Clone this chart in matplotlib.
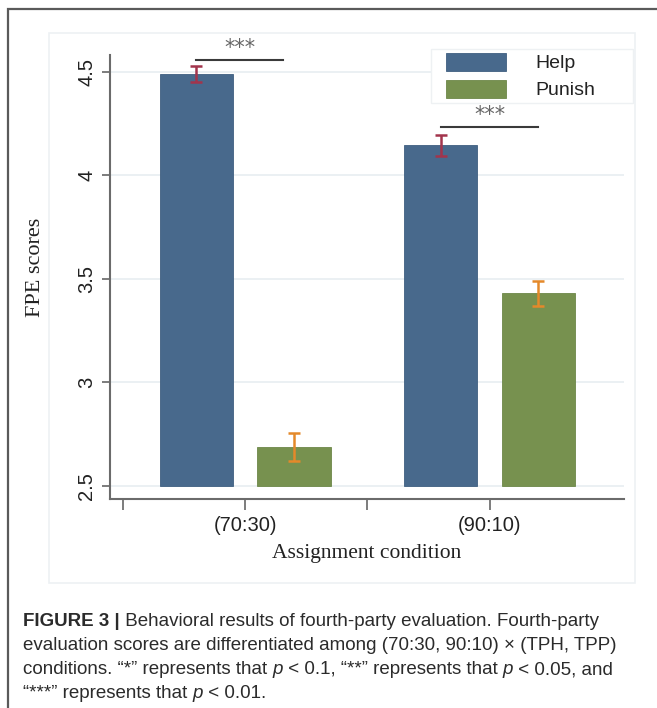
import matplotlib
matplotlib.use('Agg')
import matplotlib.pyplot as plt
from matplotlib.patches import Rectangle
from matplotlib.transforms import IdentityTransform

# Mean FPE scores with standard errors per assignment condition
conditions = ['(70:30)', '(90:10)']
help_means = [4.49, 4.145]
help_err = [0.038, 0.052]
punish_means = [2.69, 3.43]
punish_err = [0.068, 0.06]

# significance brackets: (x start, x end, height, label)
sig_marks = [(0.6, 1.31, 4.558, '***'), (2.6, 3.4, 4.236, '***')]

HELP_C = '#48698c'
PUNISH_C = '#77914f'
base = 2.5

W, H = 657, 708
fig = plt.figure(figsize=(W / 100, H / 100), dpi=100)
fig.patch.set_facecolor('white')

# outer frame (cut off at right/bottom edges) and faint plot-region box
fig.patches.append(Rectangle((8, -20), 700, H - 9 + 20, transform=IdentityTransform(),
                             fill=False, edgecolor='#5a5a5a', lw=1.6, zorder=0))
fig.patches.append(Rectangle((49, H - 583), 586, 583 - 33, transform=IdentityTransform(),
                             fill=False, edgecolor='#edf1f4', lw=1.2, zorder=0))

ax = fig.add_axes([110 / W, 1 - 499 / H, (624 - 110) / W, (499 - 55) / H])
ax.patch.set_alpha(0)

centers = [1, 3]
help_x = [c - 0.4 for c in centers]
punish_x = [c + 0.4 for c in centers]
help_h = [m - base for m in help_means]
punish_h = [m - base for m in punish_means]

ax.bar(help_x, help_h, bottom=base, width=0.6, color=HELP_C, edgecolor='#3f5f80',
       lw=0.6, label='Help', zorder=2)
ax.bar(punish_x, punish_h, bottom=base, width=0.6, color=PUNISH_C, edgecolor='#6d8748',
       lw=0.6, label='Punish', zorder=2)
ax.errorbar(help_x, help_means, yerr=help_err, fmt='none', ecolor='#a2344c',
            elinewidth=1.8, capsize=4.5, capthick=1.8, zorder=3)
ax.errorbar(punish_x, punish_means, yerr=punish_err, fmt='none', ecolor='#e4892a',
            elinewidth=1.8, capsize=4.5, capthick=1.8, zorder=3)

for x0, x1, y, lab in sig_marks:
    ax.plot([x0, x1], [y, y], color='#3a3a3a', lw=1.5, zorder=3, clip_on=False)
    ax.text((x0 + x1) / 2, y + 0.008, lab, ha='center', va='bottom', color='#666666',
            fontsize=15, family='DejaVu Sans', zorder=3)

ax.set_xlim(-0.106, 4.10)
ax.set_ylim(2.437, 4.582)
ax.set_yticks([2.5, 3, 3.5, 4, 4.5])
ax.set_yticklabels(['2.5', '3', '3.5', '4', '4.5'], rotation=90, va='center',
                   fontsize=14.5, family='Liberation Sans', color='#222222')
ax.set_xticks([0, 1, 2, 3])
ax.set_xticklabels(['', conditions[0], '', conditions[1]], fontsize=14.5,
                   family='Liberation Sans', color='#222222')
ax.tick_params(axis='y', length=6, width=1.2, color='#666666', pad=4)
ax.tick_params(axis='x', length=8, width=1.2, color='#666666', pad=4)

ax.yaxis.grid(True, color='#e8eef1', lw=1.2)
ax.set_axisbelow(True)
for s in ['top', 'right']:
    ax.spines[s].set_visible(False)
for s in ['left', 'bottom']:
    ax.spines[s].set_color('#6b6b6b')
    ax.spines[s].set_linewidth(1.5)

ax.set_ylabel('FPE scores', family='Liberation Serif', fontsize=16, color='#222222')
ax.yaxis.set_label_coords((45 - 110) / (624 - 110), (499 - 267) / (499 - 55))
ax.set_xlabel('Assignment condition', family='Liberation Serif', fontsize=15.5,
              color='#222222', labelpad=7)

# legend: white box with faint outline, covering the top gridline
ax.add_patch(Rectangle((431, H - 103), 633 - 431, 103 - 49, transform=IdentityTransform(),
                       facecolor='white', edgecolor='#eef1f3', lw=1.0, zorder=4,
                       clip_on=False))
leg = ax.legend(loc='upper left', bbox_to_anchor=(446 / W, 1 - 52.5 / H),
                bbox_transform=fig.transFigure, frameon=False,
                handlelength=3.1, handleheight=1.05, handletextpad=1.5,
                borderpad=0, labelspacing=0.38, borderaxespad=0,
                prop={'family': 'Liberation Sans', 'size': 14})
leg.set_zorder(5)
for t in leg.get_texts():
    t.set_color('#222222')

# caption below the figure, drawn run by run so bold/italic parts line up
cap_font = ['Liberation Sans Narrow', 'Liberation Sans', 'DejaVu Sans']
cap_lines = [
    [('FIGURE 3 |', 'bold'), (' Behavioral results of fourth-party evaluation. Fourth-party', 'normal')],
    [('evaluation scores are differentiated among (70:30, 90:10) \u00d7 (TPH, TPP)', 'normal')],
    [('conditions. \u201c*\u201d represents that ', 'normal'), ('p', 'italic'),
     (' < 0.1, \u201c**\u201d represents that ', 'normal'), ('p', 'italic'),
     (' < 0.05, and', 'normal')],
    [('\u201c***\u201d represents that ', 'normal'), ('p', 'italic'), (' < 0.01.', 'normal')],
]
cap_y = [622, 646, 670, 694]

fig.canvas.draw()
renderer = fig.canvas.get_renderer()
for runs, y in zip(cap_lines, cap_y):
    x = 23
    for txt, style in runs:
        t = fig.text(x, H - y, txt, transform=IdentityTransform(), va='center', ha='left',
                     family=cap_font, fontsize=13.5, color='#2b2b2b',
                     fontweight='bold' if style == 'bold' else 'normal',
                     fontstyle='italic' if style == 'italic' else 'normal')
        x = t.get_window_extent(renderer).x1

fig.savefig('out.png', dpi=100)
